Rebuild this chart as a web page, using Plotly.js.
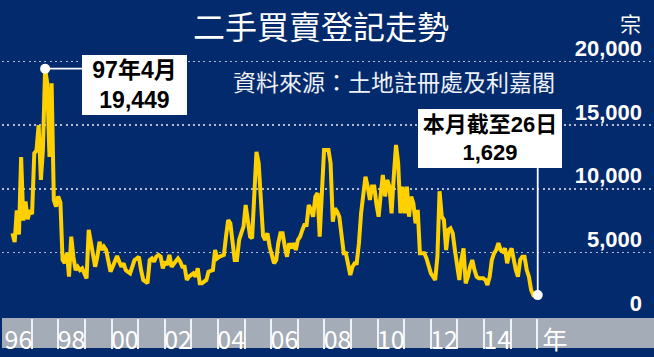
<!DOCTYPE html>
<html><head><meta charset="utf-8">
<script src="https://cdn.plot.ly/plotly-3.0.1.min.js"></script>
<style>html,body{margin:0;padding:0;background:#032a6c;}#chart{width:654px;height:357px;}</style>
</head><body><div id="chart"></div>
<script>
// ---- data (monthly second-hand sale registrations) ----
const startYear = 1996;
const startMonth = 1;
const registrations = [
 6500,5800,8300,6400,12500,7500,9000,7600,8300,8000,12800,13000,
 15000,10700,13000,19449,18300,12500,18300,9100,8600,9400,8900,4400,
 4150,4940,3080,6230,4650,3600,3860,3600,3730,3300,2950,6760,
 5710,4500,3860,4650,5830,5180,5440,5180,4130,3470,3860,4300,
 4700,4260,3860,4130,3600,3450,3340,3860,4390,4500,4650,3600,
 2820,2700,2560,4390,4520,4260,4650,4790,4650,3740,4260,4000,
 4790,3860,4100,4260,4520,4260,3860,3860,2820,3080,3200,3340,
 3080,3740,2560,2560,2690,2820,3470,3550,3600,5180,4520,4650,
 4700,4790,6230,7540,7280,5440,4390,4390,5970,6500,7020,8720,
 7280,6230,6100,9380,12900,12010,9380,6300,5970,6500,5440,4800,
 4130,4390,5710,6500,6500,5440,4650,5710,5310,5710,5180,5970,
 6230,6760,7150,7150,8720,8330,7800,9380,9650,6230,9120,13050,
 13050,13050,12010,7400,8460,8200,7800,6360,4920,4920,4130,3210,
 3860,4130,4130,5710,8070,9910,10950,10170,9120,10170,10170,8800,
 7800,9650,11090,9400,10690,10170,8070,11000,13450,12010,8070,10170,
 8070,10170,7800,9380,8860,7280,8330,4920,4920,4920,4520,3860,
 3340,3080,2820,4650,9800,7800,7540,5180,6760,6890,6500,5180,
 3860,2820,4390,5310,2560,3080,3860,4390,3600,3080,2950,2950,
 2950,2820,2430,3080,4390,4920,5180,5710,5180,5050,5310,4130,
 4920,5310,4390,3600,3080,4390,4650,4650,3600,3080,2030,1640,
 1700,1629
];
const yTickVals = [0, 5000, 10000, 15000, 20000];
const yTickText = ['0', '5,000', '10,000', '15,000', '20,000'];
const yearTickVals = [1996, 1998, 2000, 2002, 2004, 2006, 2008, 2010, 2012, 2014];
const yearTickText = ['96', '98', '00', '02', '04', '06', '08', '10', '12', '14'];
const yearUnit = '年';
const unitLabel = '宗';
const titleText = '二手買賣登記走勢';
const sourceText = '資料來源：土地註冊處及利嘉閣';
const peakLabel = ['97年4月', '19,449'];
const lastLabel = ['本月截至26日', '1,629'];

// ---- build ----
const months = registrations.map((v, i) => {
  const t = (startMonth - 1) + i;
  const y = startYear + Math.floor(t / 12);
  const m = t % 12 + 1;
  return y + '-' + String(m).padStart(2, '0');
});
const peakIdx = registrations.indexOf(Math.max(...registrations));
const lastIdx = registrations.length - 1;

const NAVY = '#032a6c';
const GOLD = '#ffd000';
const BAND = '#a4acb7';
const SEP = '#eef1f5';
const CJK = 'Noto Sans CJK TC, Noto Sans CJK SC, sans-serif';
const NUM = 'Liberation Sans, Arial, Noto Sans CJK TC, sans-serif';

// separators between year cells of the bottom band
const sepVals = [];
for (let y = 1996; y <= 2015; y++) sepVals.push(y + 0.5);
const bandRange = [1995.383, 2019.895];

const traces = [
  {x: months, y: registrations, type: 'scatter', mode: 'lines',
   line: {color: GOLD, width: 4}, hoverinfo: 'skip', xaxis: 'x', yaxis: 'y'},
  {x: [months[peakIdx], months[lastIdx]], y: [registrations[peakIdx], registrations[lastIdx]],
   type: 'scatter', mode: 'markers', marker: {color: '#ffffff', size: 10},
   hoverinfo: 'skip', xaxis: 'x', yaxis: 'y'},
  {x: [], y: [], type: 'scatter', xaxis: 'x2', yaxis: 'y', hoverinfo: 'skip'},
  {x: [], y: [], type: 'scatter', xaxis: 'x3', yaxis: 'y', hoverinfo: 'skip'}
];

const layout = {
  width: 654, height: 357,
  margin: {l: 2, r: 0, t: 0, b: 39, pad: 0},
  paper_bgcolor: NAVY, plot_bgcolor: NAVY,
  showlegend: false,
  title: {text: titleText, x: 321/654, xref: 'container', y: 1 - 28/357, yref: 'container',
          xanchor: 'center', yanchor: 'middle',
          font: {family: CJK, size: 32, color: '#ffffff'}},
  xaxis: {type: 'date', range: ['1995-08-08', '2020-07-13'], showticklabels: false,
          showgrid: false, zeroline: false, ticks: '', showline: false, fixedrange: true},
  xaxis2: {overlaying: 'x', anchor: 'y', side: 'bottom', range: bandRange,
           tickmode: 'array', tickvals: sepVals, ticks: 'outside', ticklen: 30, tickwidth: 2,
           tickcolor: SEP, showticklabels: false, showgrid: false, zeroline: false,
           showline: false, fixedrange: true},
  xaxis3: {overlaying: 'x', anchor: 'y', side: 'bottom', range: bandRange,
           tickmode: 'array', tickvals: yearTickVals.concat([2016.17]),
           ticktext: yearTickText.concat([yearUnit]), ticks: '',
           showgrid: false, zeroline: false, showline: false, fixedrange: true,
           ticklabelstandoff: 5,
           tickfont: {family: 'Liberation Sans Narrow, Noto Sans CJK TC, sans-serif', size: 25, color: '#ffffff'}},
  yaxis: {side: 'right', range: [-173, 24856], tickmode: 'array', tickvals: yTickVals,
          ticktext: yTickText, ticklabelposition: 'inside', ticks: '',
          showgrid: true, gridcolor: '#b4bccb', gridwidth: 1.5, griddash: '2px,3.3px',
          zeroline: true, zerolinecolor: NAVY, zerolinewidth: 3, showline: false,
          ticklabelshift: -13, ticklabelstandoff: 9, fixedrange: true,
          tickfont: {family: NUM, size: 22, color: '#ffffff', weight: 'bold'}},
  shapes: [
    {type: 'rect', xref: 'paper', yref: 'paper', x0: 0, x1: 1, y0: -30/318, y1: 0,
     fillcolor: BAND, line: {width: 0}, layer: 'below'},
    {type: 'line', xref: 'x', yref: 'y', xsizemode: 'pixel', xanchor: months[peakIdx],
     x0: 0, x1: 37, y0: registrations[peakIdx], y1: registrations[peakIdx],
     line: {color: '#ffffff', width: 1.8}},
    {type: 'line', xref: 'x', yref: 'y', ysizemode: 'pixel', yanchor: registrations[lastIdx],
     x0: months[lastIdx], x1: months[lastIdx], y0: 0, y1: 127,
     line: {color: '#ffffff', width: 1.8}}
  ],
  annotations: [
    {text: unitLabel, xref: 'paper', yref: 'paper', x: 628/652, y: 295.5/318,
     xanchor: 'center', yanchor: 'middle', showarrow: false,
     font: {family: CJK, size: 21, color: '#ffffff'}},
    {text: sourceText, xref: 'paper', yref: 'paper', x: 392/652, y: 237/318,
     xanchor: 'center', yanchor: 'middle', showarrow: false,
     font: {family: CJK, size: 23, color: '#eef1f6'}},
    {text: '<b>' + peakLabel[0] + '</b><br><b>' + peakLabel[1] + '</b>',
     xref: 'paper', yref: 'paper', x: 132.5/652, y: 233/318,
     xanchor: 'center', yanchor: 'middle', showarrow: false,
     bgcolor: '#ffffff', borderpad: 0, borderwidth: 0, width: 105, height: 60,
     align: 'center', valign: 'middle',
     font: {family: NUM, size: 23, color: '#000000'}},
    {text: '<b>' + lastLabel[0] + '</b><br><b>' + lastLabel[1] + '</b>',
     xref: 'paper', yref: 'paper', x: 488/652, y: 179.3/318,
     xanchor: 'center', yanchor: 'middle', showarrow: false,
     bgcolor: '#ffffff', borderpad: 0, borderwidth: 0, width: 144, height: 59,
     align: 'center', valign: 'middle',
     font: {family: NUM, size: 22, color: '#000000'}}
  ]
};

Plotly.newPlot('chart', traces, layout, {staticPlot: true, displayModeBar: false});
</script>
</body></html>
